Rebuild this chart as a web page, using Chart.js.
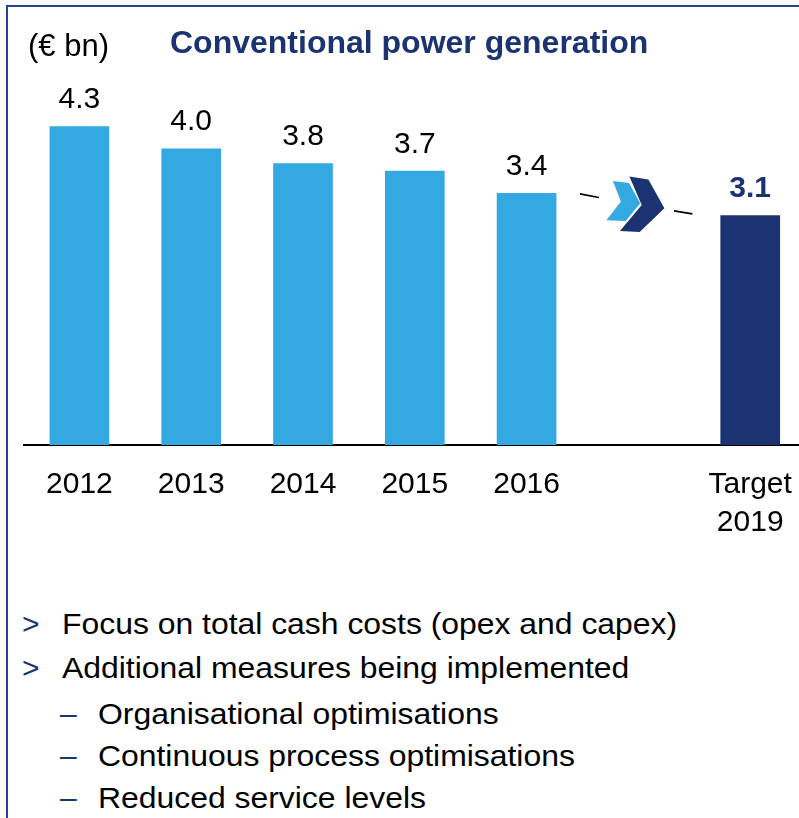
<!DOCTYPE html>
<html>
<head>
<meta charset="utf-8">
<script src="https://cdn.jsdelivr.net/npm/chart.js@4.4.0/dist/chart.umd.min.js"></script>
<style>
  html, body { margin: 0; background: #fff; overflow: hidden; }
  #wrap { position: relative; width: 813px; height: 818px; overflow: hidden; font-family: Arial, "Liberation Sans", sans-serif; }
  #chart { position: absolute; left: 0; top: 0; }
  .frame-top { position: absolute; left: 6px; top: 5px; width: 807px; height: 2px; background: #2a4488; }
  .frame-left { position: absolute; left: 6px; top: 5px; width: 2px; height: 813px; background: #2a4488; }
  .note { position: absolute; font-size: 30px; line-height: 30px; color: #000; white-space: nowrap; }
  .wide { transform: scaleX(1.063); transform-origin: left top; }
  .mark { color: #1b3370; }
</style>
</head>
<body>
<div id="wrap">
  <div class="frame-top"></div>
  <div class="frame-left"></div>
  <canvas id="chart" width="813" height="560"></canvas>

  <span class="note mark" style="left:22px; top:609px">&gt;</span>
  <span class="note wide" style="left:62px; top:609px">Focus on total cash costs (opex and capex)</span>
  <span class="note mark" style="left:22px; top:653px">&gt;</span>
  <span class="note wide" style="left:62px; top:653px">Additional measures being implemented</span>
  <span class="note mark" style="left:60px; top:699px">–</span>
  <span class="note wide" style="left:98px; top:699px">Organisational optimisations</span>
  <span class="note mark" style="left:60px; top:741px">–</span>
  <span class="note wide" style="left:98px; top:741px">Continuous process optimisations</span>
  <span class="note mark" style="left:60px; top:783px">–</span>
  <span class="note wide" style="left:98px; top:783px">Reduced service levels</span>
</div>
<script>
// values in € bn
const categories = ['2012', '2013', '2014', '2015', '2016', '', ['Target', '2019']];
const costs = [4.3, 4.0, 3.8, 3.7, 3.4, null, 3.1];
const targetIndex = 6;

const FONT = 'Arial, "Liberation Sans", sans-serif';
const LIGHT = '#34a8e0';
const NAVY = '#1b3370';

// value labels, the chevron arrow and the header texts
const decor = {
  id: 'decor',
  afterDatasetsDraw(chart) {
    const ctx = chart.ctx;
    const meta = chart.getDatasetMeta(0);
    const x = chart.scales.x;

    ctx.save();
    ctx.textAlign = 'center';
    ctx.textBaseline = 'alphabetic';
    meta.data.forEach((bar, i) => {
      if (costs[i] == null) return;
      const isTarget = i === targetIndex;
      ctx.font = (isTarget ? 'bold ' : '') + '30px ' + FONT;
      ctx.fillStyle = isTarget ? NAVY : '#000';
      ctx.fillText(costs[i].toFixed(1), bar.x, bar.y - 18.5);
    });

    // arrow between the last actual and the target
    const cx = x.getPixelForValue(5);
    const cy = (meta.data[4].y + meta.data[targetIndex].y) / 2;
    ctx.strokeStyle = '#000';
    ctx.lineWidth = 1.6;
    ctx.beginPath();
    ctx.moveTo(cx - 58.5, cy - 10.5); ctx.lineTo(cx - 39.5, cy - 6.8);
    ctx.moveTo(cx + 35.6, cy + 6.5); ctx.lineTo(cx + 54, cy + 9.5);
    ctx.stroke();

    const poly = (pts, color) => {
      ctx.beginPath();
      pts.forEach(([dx, dy], k) => k ? ctx.lineTo(cx + dx, cy + dy) : ctx.moveTo(cx + dx, cy + dy));
      ctx.closePath();
      ctx.fillStyle = color;
      ctx.fill();
    };
    poly([[-25.5, -23.5], [-9.4, -21.5], [1.8, -1.2], [-12.7, 16.5], [-32, 15.8], [-17.5, -2.8]], LIGHT);
    poly([[-9, -28], [10, -25], [26, 3.8], [1.3, 27.5], [-18.5, 26.5], [3.3, 0.5]], NAVY);

    // header
    ctx.textAlign = 'left';
    ctx.font = '31px ' + FONT;
    ctx.fillStyle = '#000';
    ctx.fillText('(€ bn)', 28, 56);
    ctx.font = 'bold 32px ' + FONT;
    ctx.fillStyle = NAVY;
    ctx.fillText('Conventional power generation', 170, 53);
    ctx.restore();
  }
};

new Chart(document.getElementById('chart'), {
  type: 'bar',
  data: {
    labels: categories,
    datasets: [{
      data: costs,
      backgroundColor: costs.map((v, i) => i === targetIndex ? NAVY : LIGHT),
      borderWidth: 0,
      barThickness: 59
    }]
  },
  options: {
    responsive: false,
    animation: false,
    layout: { padding: { left: 23.5, right: 1.5, top: 60, bottom: 0 } },
    plugins: {
      legend: { display: false },
      tooltip: { enabled: false },
      title: { display: false }
    },
    scales: {
      x: {
        grid: { display: false, drawTicks: false },
        border: { display: true, color: '#000', width: 2 },
        ticks: {
          color: '#000',
          font: { family: FONT, size: 30, lineHeight: 1.25 },
          padding: 21,
          maxRotation: 0,
          autoSkip: false
        },
        afterFit: (scale) => { scale.height = 115; }
      },
      y: { display: false, min: 0, max: 5.2 }
    }
  },
  plugins: [decor]
});
</script>
</body>
</html>
